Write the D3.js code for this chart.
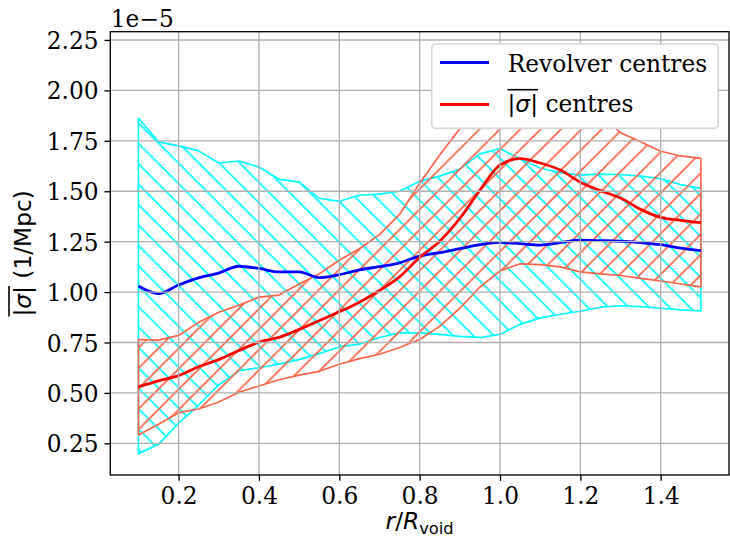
<!DOCTYPE html>
<html>
<head>
<meta charset="utf-8">
<script src="https://cdn.jsdelivr.net/npm/d3@7"></script>
<style>
  html, body { margin: 0; padding: 0; background: #ffffff; }
  svg { display: block; }
</style>
</head>
<body>
<svg id="chart" width="730" height="539"></svg>
<script>
// Radial profiles of the mean |sigma| around void centres (values in units of 1e-5 Mpc^-1)
const radius = [0.10, 0.15, 0.20, 0.25, 0.30, 0.35, 0.40, 0.45, 0.50, 0.55, 0.60, 0.65, 0.70, 0.75,
                0.80, 0.85, 0.90, 0.95, 1.00, 1.05, 1.10, 1.15, 1.20, 1.25, 1.30, 1.35, 1.40, 1.45, 1.50];

const revolverMean = [1.030, 0.992, 1.035, 1.070, 1.094, 1.128, 1.117, 1.100, 1.100, 1.072, 1.086, 1.110, 1.126, 1.145,
                      1.178, 1.195, 1.215, 1.235, 1.246, 1.240, 1.233, 1.245, 1.257, 1.255, 1.252, 1.245, 1.235, 1.218, 1.205];
const revolverLow  = [0.199, 0.245, 0.350, 0.440, 0.540, 0.610, 0.625, 0.643, 0.665, 0.695, 0.728, 0.742, 0.775, 0.798,
                      0.798, 0.790, 0.780, 0.775, 0.790, 0.840, 0.872, 0.890, 0.905, 0.925, 0.932, 0.928, 0.920, 0.912, 0.907];
const revolverHigh = [1.862, 1.745, 1.725, 1.700, 1.640, 1.650, 1.620, 1.560, 1.545, 1.465, 1.450, 1.480, 1.486, 1.500,
                      1.550, 1.575, 1.610, 1.685, 1.712, 1.660, 1.615, 1.592, 1.580, 1.585, 1.583, 1.575, 1.562, 1.533, 1.514];

const sigmaMean = [0.530, 0.560, 0.586, 0.630, 0.665, 0.710, 0.752, 0.775, 0.815, 0.858, 0.902, 0.950, 1.008, 1.075,
                   1.172, 1.252, 1.365, 1.505, 1.630, 1.662, 1.640, 1.605, 1.545, 1.503, 1.466, 1.410, 1.370, 1.356, 1.344];
const sigmaLow  = [0.291, 0.345, 0.402, 0.420, 0.455, 0.503, 0.534, 0.565, 0.588, 0.607, 0.642, 0.670, 0.692, 0.725,
                   0.765, 0.830, 0.920, 1.025, 1.105, 1.140, 1.136, 1.125, 1.100, 1.090, 1.082, 1.068, 1.055, 1.040, 1.026];
const sigmaHigh = [0.765, 0.762, 0.785, 0.850, 0.900, 0.935, 0.975, 0.985, 1.040, 1.090, 1.158, 1.215, 1.285, 1.385,
                   1.540, 1.680, 1.810, 1.950, 2.080, 2.160, 2.190, 2.150, 2.020, 1.890, 1.790, 1.745, 1.698, 1.675, 1.663];

const xTicks = [0.2, 0.4, 0.6, 0.8, 1.0, 1.2, 1.4];
const yTicks = [0.25, 0.50, 0.75, 1.00, 1.25, 1.50, 1.75, 2.00, 2.25];
const offsetLabel = "1e\u22125";
const legendLabels = ["Revolver centres", " centres"];

// ---- layout ----
const box = { left: 110.3, right: 729, top: 31.7, bottom: 475 };
const SERIF = "'DejaVu Serif', serif";
const SANS = "'DejaVu Sans', sans-serif";
const FS = 23.3;
const PT = 120 / 72;   // one point in pixels

const x = d3.scaleLinear().domain([0.03, 1.57]).range([box.left, box.right]);
const y = d3.scaleLinear().domain([0.093, 2.291]).range([box.bottom, box.top]);

const svg = d3.select("#chart");
const defs = svg.append("defs");

defs.append("clipPath").attr("id", "plotClip")
  .append("rect")
  .attr("x", box.left).attr("y", box.top)
  .attr("width", box.right - box.left).attr("height", box.bottom - box.top);

// diagonal hatch patterns in page space
function hatch(id, color, kind, phase) {
  const s = 20.4;
  const p = defs.append("pattern")
    .attr("id", id)
    .attr("patternUnits", "userSpaceOnUse")
    .attr("width", s).attr("height", s)
    .attr("x", phase).attr("y", 0);
  const d = kind === "back"
    ? `M-2,-2L${s + 2},${s + 2}M-2,${s - 2}L2,${s + 2}M${s - 2},-2L${s + 2},2`
    : `M-2,${s + 2}L${s + 2},-2M-2,2L2,-2M${s - 2},${s + 2}L${s + 2},${s - 2}`;
  p.append("path").attr("d", d)
    .attr("stroke", color).attr("stroke-width", PT).attr("fill", "none");
}
hatch("hatchCyan", "#00ffff", "back", -5);
hatch("hatchTomato", "#ff6347", "fwd", 17.1);

const plot = svg.append("g").attr("clip-path", "url(#plotClip)");

const idx = d3.range(radius.length);
function band(lo, hi) {
  return d3.area()
    .x(i => x(radius[i]))
    .y0(i => y(lo[i]))
    .y1(i => y(hi[i]))(idx);
}

plot.append("path")
  .attr("d", band(revolverLow, revolverHigh))
  .attr("fill", "url(#hatchCyan)")
  .attr("stroke", "#00ffff").attr("stroke-width", PT)
  .attr("stroke-linejoin", "round");

plot.append("path")
  .attr("d", band(sigmaLow, sigmaHigh))
  .attr("fill", "url(#hatchTomato)")
  .attr("stroke", "#ff6347").attr("stroke-width", PT)
  .attr("stroke-linejoin", "round");

// grid
const grid = svg.append("g").attr("stroke", "#b0b0b0").attr("stroke-width", 0.8 * PT);
xTicks.forEach(t => grid.append("line")
  .attr("x1", x(t)).attr("x2", x(t)).attr("y1", box.top).attr("y2", box.bottom));
yTicks.forEach(t => grid.append("line")
  .attr("x1", box.left).attr("x2", box.right).attr("y1", y(t)).attr("y2", y(t)));

// mean profiles
function profile(vals) {
  return d3.line().x(i => x(radius[i])).y(i => y(vals[i])).curve(d3.curveMonotoneX)(idx);
}
plot.append("path").attr("d", profile(revolverMean))
  .attr("fill", "none").attr("stroke", "#0000ff").attr("stroke-width", 2.8)
  .attr("stroke-linejoin", "round");
plot.append("path").attr("d", profile(sigmaMean))
  .attr("fill", "none").attr("stroke", "#ff0000").attr("stroke-width", 2.8)
  .attr("stroke-linejoin", "round");

// axes
const TICK = 3.5 * PT;
const xAxis = d3.axisBottom(x).tickValues(xTicks).tickFormat(d3.format(".1f"))
  .tickSizeInner(TICK).tickSizeOuter(0).tickPadding(TICK);
const yAxis = d3.axisLeft(y).tickValues(yTicks).tickFormat(d3.format(".2f"))
  .tickSizeInner(TICK).tickSizeOuter(0).tickPadding(TICK);

const gx = svg.append("g").attr("transform", `translate(0,${box.bottom})`).call(xAxis);
const gy = svg.append("g").attr("transform", `translate(${box.left},0)`).call(yAxis);
[gx, gy].forEach(g => {
  g.select(".domain").remove();
  g.selectAll(".tick line").attr("stroke", "#000").attr("stroke-width", 0.8 * PT);
  g.selectAll(".tick text").attr("fill", "#000")
    .style("font-family", SERIF).style("font-size", FS + "px");
});
gx.selectAll(".tick text").attr("dy", null).attr("y", 28.5);
gy.selectAll(".tick text").attr("dy", null).attr("y", 8.6);

// spines
svg.append("rect")
  .attr("x", box.left).attr("y", box.top)
  .attr("width", box.right - box.left).attr("height", box.bottom - box.top)
  .attr("fill", "none").attr("stroke", "#000").attr("stroke-width", 0.8 * PT);

// offset text
svg.append("text").attr("x", box.left + 0.5).attr("y", 26.5)
  .style("font-family", SERIF).style("font-size", FS + "px")
  .text(offsetLabel);

// x label: r / R_void
const xl = svg.append("text")
  .attr("x", (box.left + box.right) / 2).attr("y", 529)
  .attr("text-anchor", "middle")
  .style("font-family", SANS).style("font-size", FS + "px");
xl.append("tspan").style("font-style", "italic").text("r");
xl.append("tspan").text("/");
xl.append("tspan").style("font-style", "italic").text("R");
xl.append("tspan").attr("dy", 5).style("font-size", (FS * 0.7) + "px").text("void");

// |sigma| with an overline, followed by plain text
function sigmaBar(parent, x0, baseline, rest, restFamily, anchor, lift) {
  const t = parent.append("text").attr("x", x0).attr("y", baseline)
    .style("font-size", FS + "px").attr("fill", "#000");
  t.append("tspan").style("font-family", SANS).text("|");
  t.append("tspan").style("font-family", SANS).style("font-style", "italic").text("\u03c3");
  t.append("tspan").style("font-family", SANS).text("|");
  t.append("tspan").style("font-family", restFamily).text(rest);
  const total = t.node().getComputedTextLength();
  const barW = t.node().getSubStringLength(0, 3);
  const start = anchor === "middle" ? x0 - total / 2 : x0;
  t.attr("x", start);
  parent.append("line")
    .attr("x1", start).attr("x2", start + barW)
    .attr("y1", baseline - lift).attr("y2", baseline - lift)
    .attr("stroke", "#000").attr("stroke-width", 1.6);
  return t;
}

// y label (rotated)
const yl = svg.append("g")
  .attr("transform", `translate(31,${(box.top + box.bottom) / 2}) rotate(-90)`);
sigmaBar(yl, 0, 0, " (1/Mpc)", SANS, "middle", 22);

// legend (opaque frame)
const lg = svg.append("g");
lg.append("rect")
  .attr("x", 431.7).attr("y", 44)
  .attr("width", 718.3 - 431.7).attr("height", 128.3 - 44)
  .attr("rx", 4.5).attr("ry", 4.5)
  .attr("fill", "#ffffff")
  .attr("stroke", "#d6d6d6").attr("stroke-width", PT);
lg.append("line").attr("x1", 440).attr("x2", 489).attr("y1", 62.5).attr("y2", 62.5)
  .attr("stroke", "#0000ff").attr("stroke-width", 2.8);
lg.append("line").attr("x1", 440).attr("x2", 489).attr("y1", 104.5).attr("y2", 104.5)
  .attr("stroke", "#ff0000").attr("stroke-width", 2.8);
lg.append("text").attr("x", 507.7).attr("y", 71.7)
  .style("font-family", SERIF).style("font-size", FS + "px")
  .text(legendLabels[0]);
sigmaBar(lg, 507.5, 111.7, legendLabels[1], SERIF, "start", 22);
</script>
</body>
</html>
